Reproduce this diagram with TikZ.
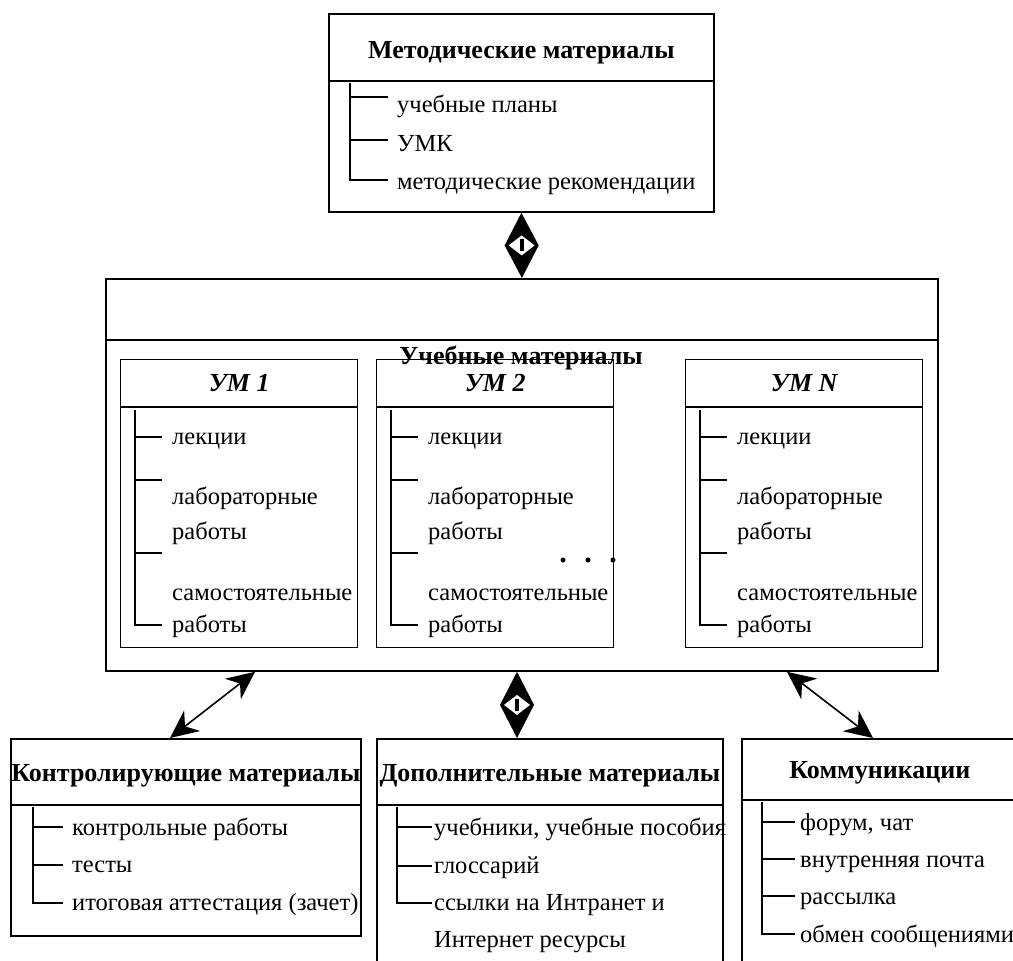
\documentclass[tikz,border=0pt]{standalone}
\usepackage{fontspec}
\setmainfont{Liberation Serif}
\usetikzlibrary{arrows.meta,calc}

\tikzset{
  box/.style={draw,line width=1.8pt,anchor=north west,inner sep=0pt},
  umbox/.style={draw,line width=1.4pt,anchor=north west,inner sep=0pt,
    minimum width=237pt,minimum height=288pt},
  tree/.style={line width=1.3pt},
  item/.style={anchor=base west,inner sep=0pt,font=\fontsize{24.5}{28}\selectfont},
  title/.style={anchor=base,inner sep=0pt,font=\bfseries\fontsize{26}{30}\selectfont},
  link/.style={line width=1.6pt,
    {Stealth[length=28pt,width=26pt,inset=9pt]}-{Stealth[length=28pt,width=26pt,inset=9pt]}},
}

% diamond link between two points
\newcommand{\aggrlink}[2]{%
  \fill (#1) -- ($(#1)!0.5!(#2)+(17,0)$) -- (#2) -- ($(#1)!0.5!(#2)+(-17,0)$) -- cycle;
  \fill[white] ($(#1)!0.5!(#2)+(0,-10)$) -- ++(13,10) -- ++(-13,10) -- ++(-13,-10) -- cycle;
  \fill ($(#1)!0.5!(#2)+(-2,-6)$) rectangle ++(4,12);
}

\begin{document}
\begin{tikzpicture}[x=1pt,y=-1pt]
  \useasboundingbox (0,0) rectangle (1013,961);

  % methodical materials
  \node[box,minimum width=385pt,minimum height=198pt] (meth) at (328,13) {};
  \draw[line width=1.8pt] (meth.west |- 0,81) -- (meth.east |- 0,81);
  \node[title] (methT) at (meth.north |- 0,58) {Методические материалы};
  \draw[tree] (350,83) |- (388,180);
  \foreach \y in {97,140} \draw[tree] (350,\y) -- (388,\y);
  \node[item] (meth1) at (397,112) {учебные планы};
  \node[item] (meth2) at (397,151) {УМК};
  \node[item] (meth3) at (397,189) {методические рекомендации};

  % learning materials
  \node[box,minimum width=832pt,minimum height=392pt] (um) at (105,278) {};
  \draw[line width=1.8pt] (um.west |- 0,340) -- (um.east |- 0,340);
  \foreach \x/\n in {120/1,376/2,685/N}{
    \node[umbox] (um\n) at (\x,359) {};
    \draw[line width=1.4pt] (um\n.west |- 0,407) -- (um\n.east |- 0,407);
    \node[title,font=\bfseries\itshape\fontsize{26}{30}\selectfont] (umT\n)
      at ($(um\n.north)+(0,32)$) {УМ \n};
    \draw[tree] (\x+15,410) |- (\x+42,625);
    \foreach \y in {437,480,553} \draw[tree] (\x+15,\y) -- (\x+42,\y);
    \node[item] (lec\n) at (\x+52,444) {лекции};
    \node[item] (labA\n) at (\x+52,504) {лабораторные};
    \node[item] (labB\n) at (\x+52,539) {работы};
    \node[item] (selfA\n) at (\x+52,600) {самостоятельные};
    \node[item] (selfB\n) at (\x+52,632) {работы};
  }
  \node[title] (umT) at (521,364) {Учебные материалы};
  \foreach \x in {563,588,613} \fill (\x,560) circle (2.5);

  % control materials
  \node[box,minimum width=350pt,minimum height=197pt] (ctrl) at (10,738) {};
  \draw[line width=1.8pt] (ctrl.west |- 0,805) -- (ctrl.east |- 0,805);
  \node[title] (ctrlT) at (ctrl.north |- 0,781) {Контролирующие материалы};
  \draw[tree] (33,807) |- (63,903);
  \foreach \y in {827,865} \draw[tree] (33,\y) -- (63,\y);
  \node[item] (ctrl1) at (72,835) {контрольные работы};
  \node[item] (ctrl2) at (72,872) {тесты};
  \node[item] (ctrl3) at (72,910) {итоговая аттестация (зачет)};

  % additional materials
  \node[box,minimum width=346pt,minimum height=260pt] (extra) at (376,738) {};
  \draw[line width=1.8pt] (extra.west |- 0,805) -- (extra.east |- 0,805);
  \node[title] (extraT) at (extra.north |- 0,781) {Дополнительные материалы};
  \draw[tree] (397,807) |- (432,903);
  \foreach \y in {827,866} \draw[tree] (397,\y) -- (432,\y);
  \node[item] (extra1) at (434,835) {учебники, учебные пособия};
  \node[item] (extra2) at (434,873) {глоссарий};
  \node[item] (extra3) at (434,910) {ссылки на Интранет и};
  \node[item] (extra4) at (434,947) {Интернет ресурсы};

  % communications
  \node[box,minimum width=276pt,minimum height=260pt] (comm) at (741,738) {};
  \draw[line width=1.8pt] (comm.west |- 0,800) -- (comm.east |- 0,800);
  \node[title] (commT) at (comm.north |- 0,778) {Коммуникации};
  \draw[tree] (762,802) |- (795,934);
  \foreach \y in {822,859,896} \draw[tree] (762,\y) -- (795,\y);
  \node[item] (comm1) at (800,830) {форум, чат};
  \node[item] (comm2) at (800,867) {внутренняя почта};
  \node[item] (comm3) at (800,904) {рассылка};
  \node[item] (comm4) at (800,942) {обмен сообщениями};

  % links
  \aggrlink{meth.south}{um.north}
  \aggrlink{um.south -| 517,0}{extra.north -| 517,0}
  \draw[link] (um.south -| 255,0) -- (ctrl.north -| 170,0);
  \draw[link] (um.south -| 787,0) -- (comm.north -| 873,0);
\end{tikzpicture}
\end{document}
